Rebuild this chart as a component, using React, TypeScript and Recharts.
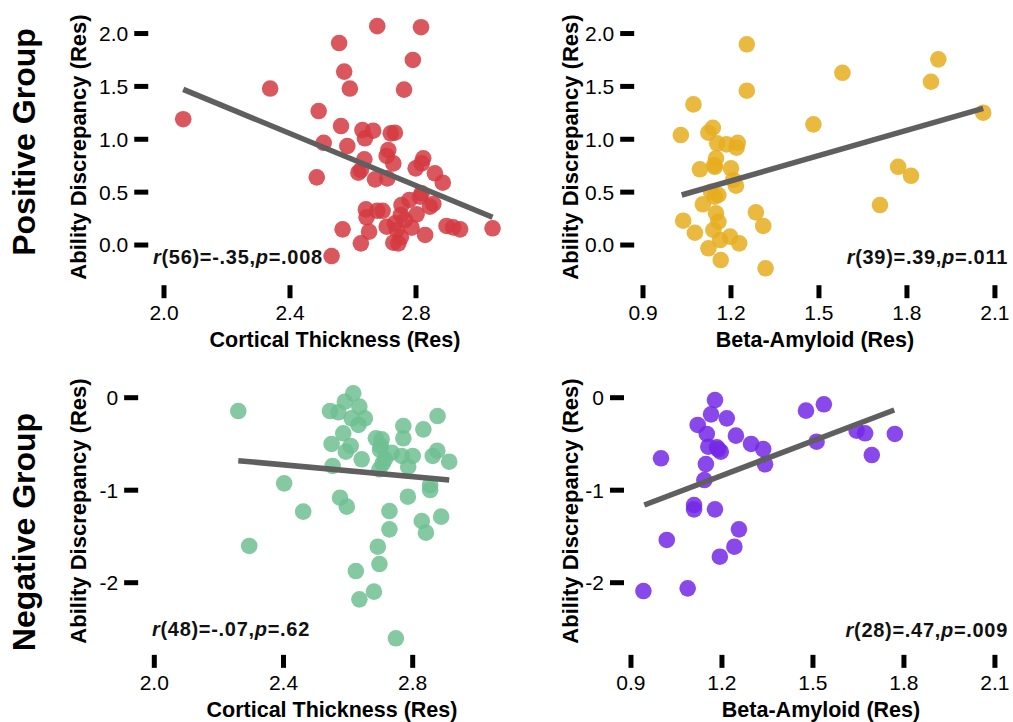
import React from "react";
import { ScatterChart, Scatter, XAxis, YAxis } from "recharts";

const FONT = '"Liberation Sans", Arial, Helvetica, sans-serif';

// Positive group: cortical thickness (res) vs ability discrepancy (res)
const posThickness: [number, number][] = [
  [2.061, 1.19], [2.337, 1.48], [2.556, 1.91], [2.677, 2.07], [2.816, 2.06],
  [2.572, 1.64], [2.59, 1.48], [2.79, 1.75], [2.762, 1.47], [2.491, 1.267],
  [2.562, 1.125], [2.63, 1.087], [2.664, 1.081], [2.638, 1.009], [2.72, 1.056],
  [2.733, 1.062], [2.507, 0.967], [2.582, 0.936], [2.712, 0.898], [2.707, 0.842],
  [2.636, 0.81], [2.728, 0.772], [2.823, 0.82], [2.818, 0.772], [2.799, 0.725],
  [2.86, 0.678], [2.885, 0.589], [2.485, 0.64], [2.617, 0.684], [2.625, 0.709],
  [2.67, 0.621], [2.709, 0.63], [2.641, 0.337], [2.643, 0.262], [2.677, 0.324],
  [2.694, 0.324], [2.754, 0.378], [2.779, 0.426], [2.813, 0.457], [2.818, 0.489],
  [2.844, 0.362], [2.855, 0.388], [2.802, 0.29], [2.752, 0.284], [2.765, 0.236],
  [2.786, 0.164], [2.707, 0.173], [2.733, 0.205], [2.739, 0.142], [2.752, 0.073],
  [2.728, 0.022], [2.744, 0.016], [2.651, 0.126], [2.625, 0.016], [2.829, 0.095],
  [2.567, 0.148], [2.532, -0.104], [2.897, 0.18], [2.918, 0.167], [2.94, 0.148],
  [3.043, 0.158],
];
const posThicknessFit: [number, number][] = [[2.061, 1.472], [3.043, 0.262]];

// Positive group: beta-amyloid (res) vs ability discrepancy (res)
const posAmyloid: [number, number][] = [
  [1.029, 1.04], [1.072, 1.33], [1.254, 1.898], [1.254, 1.459], [1.58, 1.629],
  [1.907, 1.756], [1.882, 1.544], [2.06, 1.251], [1.481, 1.141], [1.77, 0.74],
  [1.814, 0.655], [1.708, 0.378], [1.138, 1.109], [1.123, 1.062], [1.153, 0.962],
  [1.185, 0.952], [1.223, 0.967], [1.219, 0.92], [1.149, 0.82], [1.094, 0.716],
  [1.145, 0.74], [1.143, 0.756], [1.2, 0.725], [1.208, 0.615], [1.217, 0.561],
  [1.132, 0.504], [1.157, 0.473], [1.145, 0.457], [1.104, 0.385], [1.037, 0.23],
  [1.077, 0.116], [1.149, 0.3], [1.157, 0.22], [1.14, 0.142], [1.163, 0.047],
  [1.197, 0.079], [1.228, 0.016], [1.123, -0.031], [1.165, -0.142], [1.285, 0.309],
  [1.31, 0.18], [1.318, -0.22],
];
const posAmyloidFit: [number, number][] = [[1.032, 0.473], [2.06, 1.293]];

// Negative group: cortical thickness (res) vs ability discrepancy (res)
const negThickness: [number, number][] = [
  [2.26, -0.144], [2.402, -0.926], [2.461, -1.232], [2.294, -1.603], [2.544, -0.144],
  [2.57, -0.158], [2.59, -0.043], [2.616, 0.048], [2.635, -0.097], [2.611, -0.223],
  [2.652, -0.223], [2.632, -0.295], [2.585, -0.385], [2.549, -0.5], [2.608, -0.522],
  [2.593, -0.584], [2.642, -0.666], [2.552, -0.738], [2.686, -0.439], [2.704, -0.45],
  [2.701, -0.522], [2.699, -0.565], [2.735, -0.595], [2.714, -0.666], [2.707, -0.71],
  [2.697, -0.774], [2.771, -0.306], [2.771, -0.439], [2.766, -0.63], [2.8, -0.63],
  [2.786, -0.746], [2.833, -0.342], [2.877, -0.198], [2.876, -0.573], [2.862, -0.63],
  [2.913, -0.692], [2.854, -0.944], [2.854, -0.998], [2.785, -1.07], [2.575, -1.081],
  [2.596, -1.178], [2.728, -1.225], [2.728, -1.423], [2.828, -1.333], [2.841, -1.459],
  [2.888, -1.286], [2.692, -1.611], [2.697, -1.798], [2.624, -1.874], [2.68, -2.097],
  [2.635, -2.18], [2.748, -2.601],
];
const negThicknessFit: [number, number][] = [[2.26, -0.681], [2.913, -0.89]];

// Negative group: beta-amyloid (res) vs ability discrepancy (res)
const negAmyloid: [number, number][] = [
  [0.999, -0.655], [1.177, -0.025], [1.164, -0.18], [1.216, -0.223], [1.12, -0.295],
  [1.15, -0.392], [1.246, -0.41], [1.155, -0.53], [1.183, -0.536], [1.196, -0.584],
  [1.188, -0.558], [1.296, -0.5], [1.336, -0.555], [1.342, -0.72], [1.147, -0.717],
  [1.142, -0.89], [1.477, -0.14], [1.536, -0.071], [1.512, -0.476], [1.644, -0.357],
  [1.672, -0.385], [1.77, -0.392], [1.694, -0.62], [1.108, -1.16], [1.108, -1.207],
  [1.177, -1.207], [1.256, -1.423], [1.241, -1.611], [1.193, -1.719], [1.018, -1.538],
  [0.941, -2.09], [1.087, -2.061],
];
const negAmyloidFit: [number, number][] = [[0.944, -1.16], [1.768, -0.133]];

const thicknessTicks = [2.0, 2.4, 2.8];
const amyloidTicks = [0.9, 1.2, 1.5, 1.8, 2.1];
const posYTicks = [0, 0.5, 1, 1.5, 2];
const negYTicks = [-2, -1, 0];

const tickStyle = { fill: "#000", fontSize: 21, fontFamily: FONT };
const tickLineStyle = { stroke: "#000", strokeWidth: 5 };

type Box = {
  left: number;
  top: number;
  width: number;
  height: number;
  mt: number;
  mr: number;
  yw: number;
  xh: number;
};

type PanelProps = {
  box: Box;
  xDomain: [number, number];
  yDomain: [number, number];
  xTicks: number[];
  yTicks: number[];
  yFmt: (v: number) => string;
  points: [number, number][];
  fit: [number, number][];
  color: string;
};

const Panel = ({ box, xDomain, yDomain, xTicks, yTicks, yFmt, points, fit, color }: PanelProps) => {
  const data = points.map(([x, y]) => ({ x, y }));
  const line = fit.map(([x, y]) => ({ x, y }));
  return (
    <div style={{ position: "absolute", left: box.left, top: box.top }}>
      <ScatterChart
        width={box.width}
        height={box.height}
        margin={{ top: box.mt, right: box.mr, bottom: 0, left: 0 }}
      >
        <XAxis
          type="number"
          dataKey="x"
          domain={xDomain}
          ticks={xTicks}
          interval={0}
          allowDataOverflow
          axisLine={false}
          tickLine={tickLineStyle}
          tickSize={13}
          tickMargin={7}
          height={box.xh}
          tick={tickStyle}
          tickFormatter={(v: number) => v.toFixed(1)}
        />
        <YAxis
          type="number"
          dataKey="y"
          domain={yDomain}
          ticks={yTicks}
          interval={0}
          allowDataOverflow
          axisLine={false}
          tickLine={tickLineStyle}
          tickSize={14}
          tickMargin={6}
          width={box.yw}
          tick={tickStyle}
          tickFormatter={yFmt}
        />
        <Scatter
          data={data}
          isAnimationActive={false}
          shape={(p: any) => (
            <circle cx={p.cx} cy={p.cy} r={8.3} fill={color} fillOpacity={0.85} />
          )}
        />
        <Scatter
          data={line}
          isAnimationActive={false}
          line={{ stroke: "#5f5f5f", strokeWidth: 5.5 }}
          shape={() => <g />}
        />
      </ScatterChart>
    </div>
  );
};

const Stat = ({ x, y, anchor, df, r, p }: { x: number; y: number; anchor: "start" | "end"; df: string; r: string; p: string }) => (
  <text
    x={x}
    y={y}
    textAnchor={anchor}
    fontSize={20}
    letterSpacing={0.7}
    fontWeight="bold"
    fill="#111"
  >
    <tspan fontStyle="italic">r</tspan>
    {`(${df})=${r},`}
    <tspan fontStyle="italic">p</tspan>
    {`=${p}`}
  </text>
);

const VLabel = ({ x, y, text, size }: { x: number; y: number; text: string; size: number }) => (
  <text
    x={x}
    y={y}
    transform={`rotate(-90 ${x} ${y})`}
    textAnchor="middle"
    fontSize={size}
    fontWeight="bold"
    fill="#000"
  >
    {text}
  </text>
);

const HLabel = ({ x, y, text }: { x: number; y: number; text: string }) => (
  <text x={x} y={y} textAnchor="middle" fontSize={21.5} fontWeight="bold" fill="#000">
    {text}
  </text>
);

const fmt1 = (v: number) => v.toFixed(1);
const fmt0 = (v: number) => String(v);

export default function App() {
  return (
    <div
      style={{
        position: "absolute",
        left: 0,
        top: 0,
        width: 1013,
        height: 722,
        background: "#fff",
        fontFamily: FONT,
      }}
    >
      <Panel
        box={{ left: 0, top: 0, width: 520, height: 361, mt: 14.5, mr: 9.5, yw: 148.25, xh: 75.8 }}
        xDomain={[1.95, 3.1]}
        yDomain={[-0.38, 2.18]}
        xTicks={thicknessTicks}
        yTicks={posYTicks}
        yFmt={fmt1}
        points={posThickness}
        fit={posThicknessFit}
        color="#d43a41"
      />
      <Panel
        box={{ left: 520, top: 0, width: 493, height: 361, mt: 14.5, mr: 12.2, yw: 114.2, xh: 75.8 }}
        xDomain={[0.87, 2.12]}
        yDomain={[-0.38, 2.18]}
        xTicks={amyloidTicks}
        yTicks={posYTicks}
        yFmt={fmt1}
        points={posAmyloid}
        fit={posAmyloidFit}
        color="#e6ad1f"
      />
      <Panel
        box={{ left: 0, top: 361, width: 520, height: 361, mt: 18.2, mr: 42.7, yw: 138.15, xh: 67.15 }}
        xDomain={[1.95, 3.0]}
        yDomain={[-2.78, 0.2]}
        xTicks={thicknessTicks}
        yTicks={negYTicks}
        yFmt={fmt0}
        points={negThickness}
        fit={negThicknessFit}
        color="#6fbf92"
      />
      <Panel
        box={{ left: 520, top: 361, width: 493, height: 361, mt: 18.2, mr: 12, yw: 104, xh: 67.15 }}
        xDomain={[0.877, 2.12]}
        yDomain={[-2.78, 0.2]}
        xTicks={amyloidTicks}
        yTicks={negYTicks}
        yFmt={fmt0}
        points={negAmyloid}
        fit={negAmyloidFit}
        color="#7428e6"
      />
      <svg
        width={1013}
        height={722}
        style={{ position: "absolute", left: 0, top: 0, pointerEvents: "none", fontFamily: FONT }}
      >
        <VLabel x={35} y={142} text="Positive Group" size={32} />
        <VLabel x={35} y={532} text="Negative Group" size={32} />
        <VLabel x={86} y={147} text="Ability Discrepancy (Res)" size={22} />
        <VLabel x={578} y={147} text="Ability Discrepancy (Res)" size={22} />
        <VLabel x={86} y={511} text="Ability Discrepancy (Res)" size={22} />
        <VLabel x={578} y={511} text="Ability Discrepancy (Res)" size={22} />
        <HLabel x={335} y={347} text="Cortical Thickness (Res)" />
        <HLabel x={815} y={347} text="Beta-Amyloid (Res)" />
        <HLabel x={332} y={717} text="Cortical Thickness (Res)" />
        <HLabel x={821} y={717} text="Beta-Amyloid (Res)" />
        <Stat x={153} y={264} anchor="start" df="56" r="-.35" p=".008" />
        <Stat x={1008} y={264} anchor="end" df="39" r=".39" p=".011" />
        <Stat x={152} y={636} anchor="start" df="48" r="-.07" p=".62" />
        <Stat x={1008} y={637} anchor="end" df="28" r=".47" p=".009" />
      </svg>
    </div>
  );
}
